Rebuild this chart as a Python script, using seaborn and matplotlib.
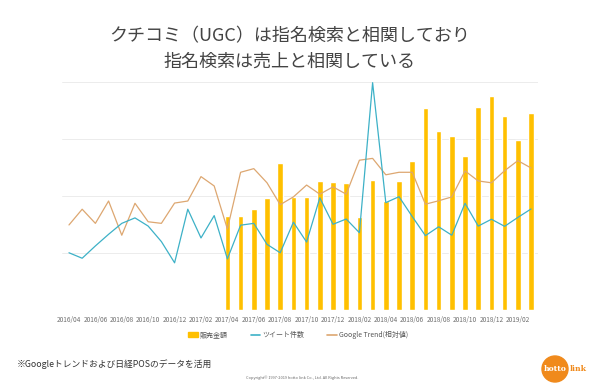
import numpy as np
import pandas as pd
import matplotlib
matplotlib.use('Agg')
import matplotlib.pyplot as plt
from matplotlib.patches import Ellipse, Patch
from matplotlib.lines import Line2D
import seaborn as sns

sns.set_style('white')
plt.rcParams['font.family'] = ['Noto Sans CJK JP', 'DejaVu Sans']

# months 2016/04 .. 2019/03
months = ['2016/04', '2016/05', '2016/06', '2016/07', '2016/08', '2016/09',
          '2016/10', '2016/11', '2016/12', '2017/01', '2017/02', '2017/03',
          '2017/04', '2017/05', '2017/06', '2017/07', '2017/08', '2017/09',
          '2017/10', '2017/11', '2017/12', '2018/01', '2018/02', '2018/03',
          '2018/04', '2018/05', '2018/06', '2018/07', '2018/08', '2018/09',
          '2018/10', '2018/11', '2018/12', '2019/01', '2019/02', '2019/03']

# sales only from 2017/04
sales_months = months[12:]
sales = [41.2, 41.2, 44.3, 49.3, 64.6, 49.4, 49.7, 56.6, 56.3, 55.6, 40.8, 57.0,
         47.9, 56.6, 65.4, 88.7, 78.6, 76.3, 67.7, 89.0, 93.9, 85.1, 74.7, 86.4]

tweets = [25.1, 22.7, 28.1, 33.2, 38.0, 40.4, 36.8, 30.0, 20.7, 44.2, 31.6, 41.4,
          22.4, 37.2, 38.0, 28.8, 25.1, 38.5, 29.8, 49.2, 37.6, 39.9, 33.9, 99.7,
          47.1, 49.7, 41.0, 32.6, 36.5, 32.8, 46.8, 36.8, 39.8, 36.7, 40.6, 44.3]

trend = [37.3, 44.2, 38.0, 47.8, 32.8, 46.8, 38.7, 38.0, 46.9, 47.8, 58.5, 54.4,
         35.5, 60.4, 62.0, 55.8, 46.2, 49.6, 54.8, 50.8, 54.0, 50.8, 65.7, 66.5,
         59.3, 60.4, 60.4, 46.4, 47.9, 49.6, 61.0, 56.6, 55.8, 61.1, 65.5, 62.3]

bar_c = '#FFC000'
tw_c = '#3DB1C7'
tr_c = '#DDA771'

df_bar = pd.DataFrame({'month': sales_months, 'sales': sales})
idx = np.arange(len(months))

fig = plt.figure(figsize=(6, 3.89), dpi=100)
ax = fig.add_axes([0.1033, 0.2031, 0.7934, 0.5861])

sns.barplot(data=df_bar, x='month', y='sales', order=months, color=bar_c,
            saturation=1, width=0.42, ax=ax)
sns.lineplot(x=idx, y=trend, color=tr_c, lw=0.9, ax=ax)
sns.lineplot(x=idx, y=tweets, color=tw_c, lw=0.9, ax=ax)

ax.set_xlim(-0.53, 35.53)
ax.set_ylim(0, 100)
ax.set_yticks([0, 25, 50, 75, 100])
ax.set_yticklabels([])
ax.yaxis.grid(True, color='#E9E9E9', lw=0.6)
ax.set_axisbelow(True)
ax.set_xticks(idx[::2])
ax.set_xticklabels(months[::2], fontsize=4.7, color='#707070')
ax.tick_params(axis='both', length=0, pad=4)
ax.set_xlabel('')
ax.set_ylabel('')
sns.despine(ax=ax, left=True, bottom=True)

handles = [Patch(color=bar_c, label='販売金額'),
           Line2D([], [], color=tw_c, lw=1.2, label='ツイート件数'),
           Line2D([], [], color=tr_c, lw=1.2, label='Google Trend(相対値)')]
fig.legend(handles=handles, loc='center', bbox_to_anchor=(0.497, 0.139), ncol=3,
           frameon=False, fontsize=5, handlelength=1.4, handleheight=0.7,
           handletextpad=0.3, columnspacing=3.3, labelcolor='#555555')

fig.text(0.483, 0.907, 'クチコミ（UGC）は指名検索と相関しており', ha='center', va='center',
         fontsize=13, color='#444444')
fig.text(0.483, 0.842, '指名検索は売上と相関している', ha='center', va='center',
         fontsize=13, color='#444444')

fig.text(0.028, 0.064, '※Googleトレンドおよび日経POSのデータを活用', ha='left',
         va='center', fontsize=6.3, color='#333333')
fig.text(0.503, 0.028, 'Copyright© 1997-2019 hotto link Co., Ltd. All Rights Reserved.',
         ha='center', va='center', fontsize=2.8, color='#666666')

# logo
fig.patches.append(Ellipse((555 / 600, 1 - 369 / 389), 26 / 600, 26 / 389,
                           transform=fig.transFigure, color='#F08A1C'))
fig.text(555 / 600, 1 - 369 / 389, 'hotto', ha='center', va='center', fontsize=5.5,
         color='white', weight='bold', family='DejaVu Serif')
fig.text(570 / 600, 1 - 369 / 389, 'link', ha='left', va='center', fontsize=5.5,
         color='#F08A1C', weight='bold', family='DejaVu Serif')

fig.savefig('out.png', dpi=100)
